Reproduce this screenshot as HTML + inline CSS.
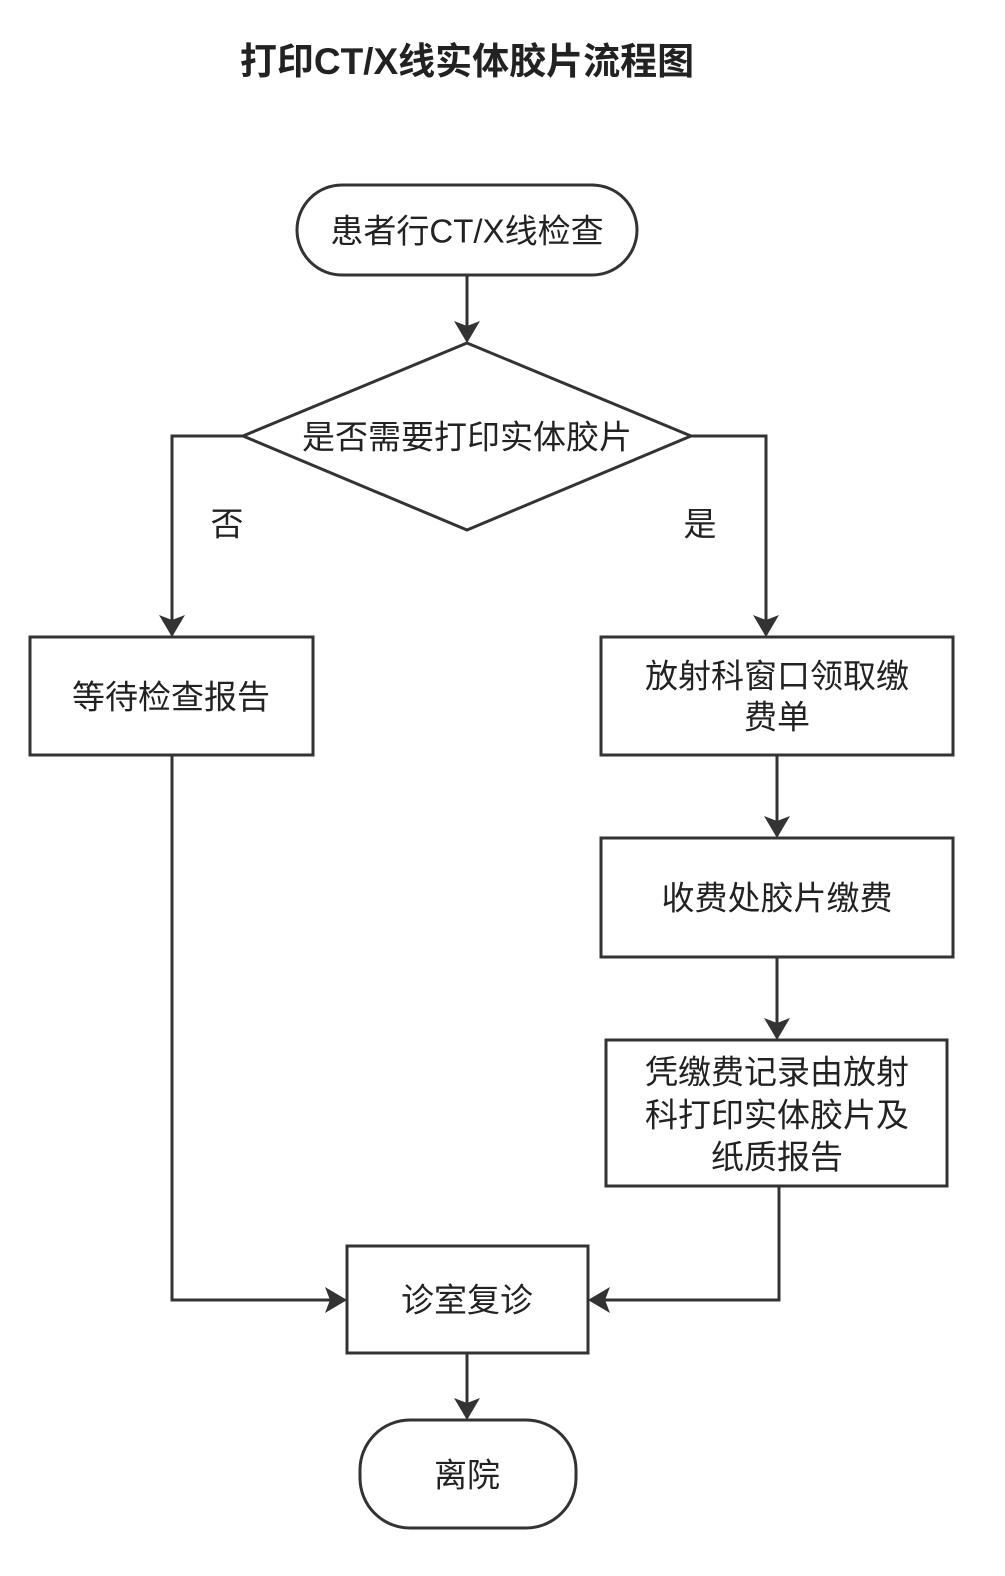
<!DOCTYPE html>
<html><head><meta charset="utf-8"><style>
html,body{margin:0;padding:0;background:#fff;}
svg{display:block;}
text{font-family:"Liberation Sans","Noto Sans CJK SC",sans-serif;fill:#222;}
</style></head><body>
<svg width="1005" height="1576" viewBox="0 0 1005 1576" xmlns="http://www.w3.org/2000/svg">
<defs><marker id="a" markerWidth="10" markerHeight="10" refX="9" refY="5" orient="auto" markerUnits="userSpaceOnUse" viewBox="0 0 10 10"><path d="M0,0 L10,5 L0,10 z" fill="#333"/></marker>
<marker id="b" markerWidth="22" markerHeight="26" refX="20" refY="13" orient="auto" markerUnits="userSpaceOnUse"><path d="M0,0 L22,13 L0,26 L5,13 z" fill="#333"/></marker></defs>
<text x="467" y="74" font-size="37" font-weight="bold" text-anchor="middle">打印CT/X线实体胶片流程图</text>
<g fill="#fff" stroke="#333" stroke-width="3">
<rect x="297" y="185" width="340" height="90" rx="45"/>
<polygon points="467,343 691,436 467,530 243,436"/>
<rect x="30" y="637" width="283" height="118"/>
<rect x="601" y="637" width="352" height="118"/>
<rect x="601" y="838" width="352" height="119"/>
<rect x="606" y="1040" width="341" height="146"/>
<rect x="347" y="1246" width="241" height="107"/>
<rect x="360" y="1420" width="216" height="108" rx="50"/>
</g>
<g fill="none" stroke="#333" stroke-width="3">
<path d="M467,275 V341" marker-end="url(#b)"/>
<path d="M243,436 H172 V635" marker-end="url(#b)"/>
<path d="M691,436 H766 V635" marker-end="url(#b)"/>
<path d="M777,755 V836" marker-end="url(#b)"/>
<path d="M777,957 V1038" marker-end="url(#b)"/>
<path d="M779,1186 V1300 H590" marker-end="url(#b)"/>
<path d="M172,755 V1300 H345" marker-end="url(#b)"/>
<path d="M467,1353 V1418" marker-end="url(#b)"/>
</g>
<g font-size="33" text-anchor="middle" dominant-baseline="central">
<text x="467" y="231">患者行CT/X线检查</text>
<text x="467" y="437">是否需要打印实体胶片</text>
<text x="227" y="524">否</text>
<text x="700" y="524">是</text>
<text x="171" y="697">等待检查报告</text>
<text x="777" y="676">放射科窗口领取缴</text>
<text x="777" y="717">费单</text>
<text x="777" y="898">收费处胶片缴费</text>
<text x="777" y="1072">凭缴费记录由放射</text>
<text x="777" y="1115">科打印实体胶片及</text>
<text x="777" y="1157">纸质报告</text>
<text x="467" y="1300">诊室复诊</text>
<text x="467" y="1475">离院</text>
</g>
</svg>
</body></html>
